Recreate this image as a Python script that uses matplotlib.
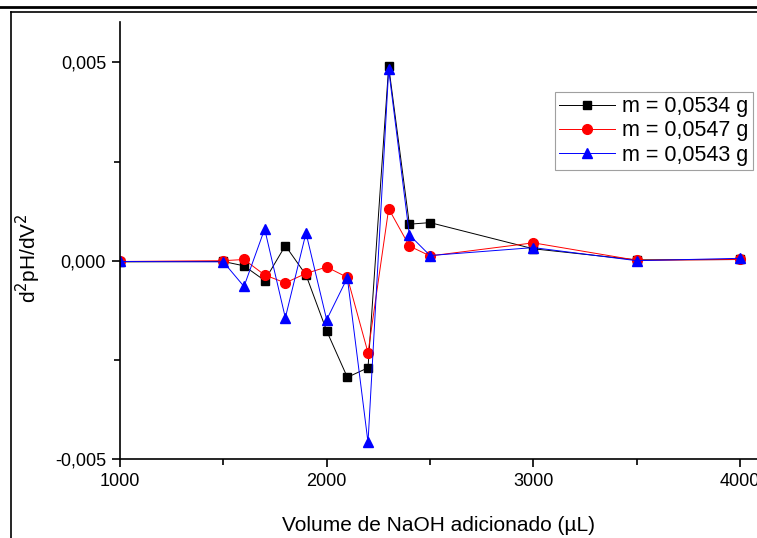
import matplotlib
matplotlib.use("Agg")
import matplotlib.pyplot as plt
from matplotlib.lines import Line2D
from matplotlib.ticker import FuncFormatter, MultipleLocator

plt.rcParams['font.family'] = ['Liberation Sans', 'DejaVu Sans']

# Volume de NaOH (uL) e segunda derivada do pH para cada massa
volume = [1000, 1500, 1600, 1700, 1800, 1900, 2000, 2100, 2200, 2300,
          2400, 2500, 3000, 3500, 4000]
d2_m0534 = [-0.00003, -0.00002, -0.00013, -0.00050, 0.00038, -0.00036,
            -0.00177, -0.00294, -0.00270, 0.00490, 0.00092, 0.00096,
            0.00030, 0.00002, 0.00003]
d2_m0547 = [-0.00002, 0.00000, 0.00003, -0.00036, -0.00056, -0.00032,
            -0.00016, -0.00042, -0.00232, 0.00131, 0.00037, 0.00012,
            0.00045, 0.00001, 0.00003]
d2_m0543 = [-0.00002, -0.00003, -0.00065, 0.00080, -0.00144, 0.00070,
            -0.00149, -0.00043, -0.00458, 0.00482, 0.00065, 0.00013,
            0.00033, 0.00000, 0.00006]
labels = ['m = 0,0534 g', 'm = 0,0547 g', 'm = 0,0543 g']

fig = plt.figure(figsize=(7.57, 5.38), dpi=100)
ax = fig.add_axes([0.1585, 0.1468, 0.8415, 0.8125])

ax.plot(volume, d2_m0534, color='black', lw=0.7, marker='s', ms=6,
        label=labels[0])
ax.plot(volume, d2_m0547, color='red', lw=0.7, marker='o', ms=7,
        label=labels[1])
ax.plot(volume, d2_m0543, color='blue', lw=0.7, marker='^', ms=7.5,
        label=labels[2])

ax.set_xlim(1000, 4082)
ax.set_ylim(-0.005, 0.00602)

ax.xaxis.set_major_locator(MultipleLocator(1000))
ax.xaxis.set_minor_locator(MultipleLocator(500))
ax.yaxis.set_major_locator(MultipleLocator(0.005))
ax.yaxis.set_minor_locator(MultipleLocator(0.0025))
ax.yaxis.set_major_formatter(FuncFormatter(
    lambda v, p: f"{v:.3f}".replace('.', ',').replace('-0,000', '0,000')))

for s in ['top', 'right']:
    ax.spines[s].set_visible(False)
for s in ['left', 'bottom']:
    ax.spines[s].set_linewidth(1.2)

ax.tick_params(which='major', direction='out', length=6, width=1.2,
               labelsize=13, pad=4)
ax.tick_params(which='minor', direction='out', length=4, width=1.2)

ax.set_xlabel('Volume de NaOH adicionado (µL)', fontsize=15, labelpad=19)
ax.set_ylabel('d$^2$pH/dV$^2$', fontsize=15)
ax.yaxis.set_label_coords(-0.121, 0.46)

leg = ax.legend(loc='upper right', bbox_to_anchor=(0.993, 0.84),
                fontsize=15.5, frameon=True, fancybox=False,
                edgecolor='#888888', handlelength=2.6, handletextpad=0.3,
                borderpad=0.2, labelspacing=0.15, borderaxespad=0)
leg.get_frame().set_linewidth(0.8)

# moldura da página
fig.add_artist(Line2D([0, 1], [1 - 6.5 / 538] * 2, color='black', lw=2.0))
fig.add_artist(Line2D([11 / 757, 1], [1 - 12 / 538] * 2, color='black', lw=1.2))
fig.add_artist(Line2D([11 / 757] * 2, [0, 1 - 12 / 538], color='black', lw=1.2))

fig.savefig('out.png', dpi=100)
